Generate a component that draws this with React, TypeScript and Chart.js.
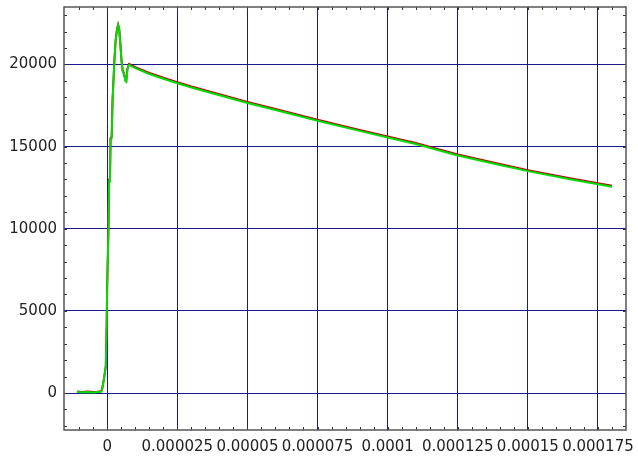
import React, { useEffect, useRef } from "react";
import { Chart, registerables } from "chart.js";

Chart.register(...registerables);

// time in microseconds
const timeUs = [
  -10.7, -9, -7, -5, -3.5, -2.2, -1.8, -1.1, -0.5, -0.2, 0.0, 0.4, 0.7, 1.0, 1.2, 1.6, 1.9, 2.2, 2.6, 3.0,
  3.5, 3.9, 4.3, 4.7, 5.1, 5.5, 6.0, 6.5, 6.8, 7.2, 7.8, 10, 15, 20, 25, 30, 40, 50, 60, 75, 90, 100, 110,
  125, 140, 150, 165, 180,
];
const greenValues = [
  60, 50, 70, 40, 60, 80, 200, 900, 1600, 4000, 6500, 9500, 12900, 13000, 15400, 15500, 17700, 18800, 20300,
  21400, 22100, 22400, 22100, 21200, 20200, 19600, 19400, 19000, 18950, 19700, 19980, 19780, 19420, 19130,
  18860, 18600, 18130, 17660, 17230, 16580, 15960, 15560, 15160, 14460, 13880, 13510, 13010, 12560,
];
const redValues = [
  90, 70, 100, 60, 80, 110, 230, 920, 1650, 4100, 6600, 9600, 13000, 13100, 15500, 15600, 17800, 18900, 20400,
  21450, 22150, 22420, 22150, 21300, 20300, 19650, 19450, 19050, 19000, 19750, 20040, 19840, 19480, 19190,
  18920, 18660, 18190, 17720, 17290, 16640, 16020, 15620, 15220, 14520, 13940, 13570, 13070, 12620,
];

const xTicks = [0, 0.000025, 0.00005, 0.000075, 0.0001, 0.000125, 0.00015, 0.000175];
const xTickLabels = ["0", "0.000025", "0.00005", "0.000075", "0.0001", "0.000125", "0.00015", "0.000175"];
const yTicks = [0, 5000, 10000, 15000, 20000];
const yTickLabels = ["0", "5000", "10000", "15000", "20000"];

const X_MIN = -0.0000154;
const X_MAX = 0.000185;
const Y_MIN = -2250;
const Y_MAX = 23500;

const framePlugin = {
  id: "framePlugin",
  afterDraw(chart: any) {
    const { ctx, chartArea } = chart;
    const { left, right, top, bottom } = chartArea;
    const xs = chart.scales.x;
    const ys = chart.scales.y;
    ctx.save();
    ctx.strokeStyle = "#333";
    ctx.lineWidth = 1;
    ctx.beginPath();
    for (let v = -0.00001; v <= X_MAX + 1e-12; v += 0.000005) {
      const p = Math.round(xs.getPixelForValue(v)) + 0.5;
      if (p <= left + 1 || p >= right - 1) continue;
      ctx.moveTo(p, bottom);
      ctx.lineTo(p, bottom - 3);
      ctx.moveTo(p, top);
      ctx.lineTo(p, top + 3);
    }
    for (let v = -2000; v <= Y_MAX; v += 1000) {
      const p = Math.round(ys.getPixelForValue(v)) + 0.5;
      if (p <= top + 1 || p >= bottom - 1) continue;
      ctx.moveTo(left, p);
      ctx.lineTo(left + 3, p);
      ctx.moveTo(right, p);
      ctx.lineTo(right - 3, p);
    }
    ctx.stroke();
    ctx.strokeStyle = "#555";
    ctx.lineWidth = 1.5;
    ctx.strokeRect(left, top, right - left, bottom - top);
    ctx.restore();
  },
};

export default function App() {
  const ref = useRef<HTMLCanvasElement>(null);
  useEffect(() => {
    document.body.style.margin = "0";
    const times = timeUs.map((t) => t * 1e-6);
    const chart = new Chart(ref.current as HTMLCanvasElement, {
      type: "line",
      data: {
        datasets: [
          {
            data: times.map((t, i) => ({ x: t, y: greenValues[i] })),
            borderColor: "#00dd00",
            borderWidth: 2,
            pointRadius: 0,
            tension: 0,
          },
          {
            data: times.map((t, i) => ({ x: t, y: redValues[i] })),
            borderColor: "#c00000",
            borderWidth: 2,
            pointRadius: 0,
            tension: 0,
          },
        ],
      },
      options: {
        animation: false,
        responsive: false,
        layout: { padding: { left: 0, top: 7, right: 12, bottom: 0 } },
        plugins: { legend: { display: false }, tooltip: { enabled: false } },
        scales: {
          x: {
            type: "linear",
            min: X_MIN,
            max: X_MAX,
            afterBuildTicks: (s: any) => {
              s.ticks = xTicks.map((v) => ({ value: v }));
            },
            afterFit: (s: any) => {
              s.height = 31;
              s.paddingLeft = 0;
              s.paddingRight = 0;
            },
            grid: { color: "#1a1a8c", lineWidth: 1, drawTicks: false },
            border: { display: false },
            ticks: {
              padding: 8,
              maxRotation: 0,
              autoSkip: false,
              color: "#222",
              font: { family: "DejaVu Sans", size: 15 },
              callback: (v: any) => {
                const i = xTicks.findIndex((t) => Math.abs(t - v) < 1e-12);
                return i >= 0 ? xTickLabels[i] : "";
              },
            },
          },
          y: {
            type: "linear",
            min: Y_MIN,
            max: Y_MAX,
            afterBuildTicks: (s: any) => {
              s.ticks = yTicks.map((v) => ({ value: v }));
            },
            afterFit: (s: any) => {
              s.width = 64;
              s.paddingTop = 0;
              s.paddingBottom = 0;
            },
            grid: { color: "#1a1a8c", lineWidth: 1, drawTicks: false },
            border: { display: false },
            ticks: {
              padding: 7,
              color: "#222",
              font: { family: "DejaVu Sans", size: 15 },
              callback: (v: any) => {
                const i = yTicks.indexOf(v);
                return i >= 0 ? yTickLabels[i] : "";
              },
            },
          },
        },
      },
      plugins: [framePlugin],
    } as any);
    return () => chart.destroy();
  }, []);
  return (
    <div style={{ position: "fixed", left: 0, top: 0, width: 638, height: 461, background: "#fff" }}>
      <canvas ref={ref} width={638} height={461} style={{ display: "block" }} />
    </div>
  );
}
